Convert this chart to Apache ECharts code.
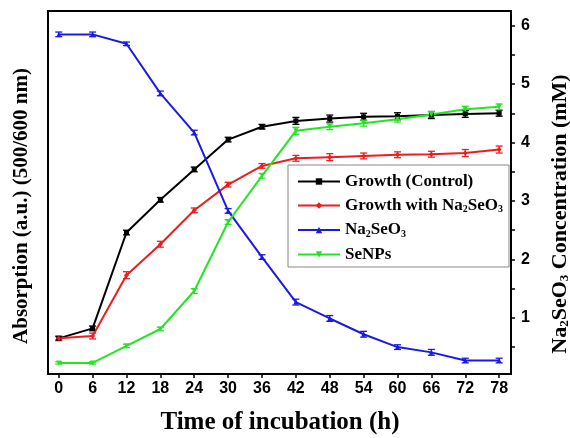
<!DOCTYPE html>
<html><head><meta charset="utf-8">
<script src="https://cdn.jsdelivr.net/npm/echarts@6/dist/echarts.min.js"></script>
<style>html,body{margin:0;padding:0;background:#fff}#c{width:570px;height:438px}</style>
</head><body><div id="c"></div>
<script>
const hours = [0,6,12,18,24,30,36,42,48,54,60,66,72,78];
const xTicks = [0,6,12,18,24,30,36,42,48,54,60,66,72,78];
const yLabels = [1,2,3,4,5,6];
const yTicks = [0.5,1,1.5,2,2.5,3,3.5,4,4.5,5,5.5,6];
const control = [0.65,0.82,2.46,3.02,3.54,4.05,4.27,4.37,4.41,4.44,4.45,4.47,4.49,4.50];
const controlErr = [0.03,0.04,0.04,0.04,0.04,0.04,0.04,0.06,0.06,0.06,0.06,0.06,0.06,0.05];
const withNa = [0.65,0.69,1.73,2.26,2.84,3.28,3.60,3.73,3.75,3.77,3.79,3.80,3.82,3.88];
const withNaErr = [0.04,0.05,0.06,0.05,0.04,0.04,0.04,0.05,0.06,0.05,0.05,0.05,0.06,0.06];
const na2seo3 = [5.85,5.85,5.69,4.84,4.17,2.83,2.04,1.27,0.99,0.72,0.50,0.41,0.27,0.27];
const na2seo3Err = [0.04,0.04,0.03,0.04,0.04,0.04,0.04,0.05,0.05,0.05,0.04,0.05,0.04,0.04];
const senps = [0.23,0.23,0.52,0.81,1.46,2.64,3.43,4.20,4.27,4.33,4.40,4.48,4.57,4.61];
const senpsErr = [0.02,0.02,0.03,0.03,0.04,0.04,0.04,0.06,0.05,0.05,0.05,0.05,0.05,0.05];

const YMIN = 0.04, YMAX = 6.25;
const serif = 'Liberation Serif';
const sans = 'Liberation Sans';

function pts(vals){ return hours.map((h,i)=>[h, vals[i]]); }
function errPts(vals, errs){ return hours.map((h,i)=>[h, vals[i], errs[i]]); }

function errSeries(vals, errs, color, yIdx){
  return {
    type:'custom', yAxisIndex:yIdx, z:3, silent:true,
    data: errPts(vals, errs),
    renderItem: function(params, api){
      const x = api.value(0), y = api.value(1), e = api.value(2);
      const t = api.coord([x, y+e]), b = api.coord([x, y-e]);
      const w = 3.5;
      const st = {stroke: color, lineWidth: 1.3};
      return {type:'group', children:[
        {type:'line', shape:{x1:t[0],y1:t[1],x2:b[0],y2:b[1]}, style:st},
        {type:'line', shape:{x1:t[0]-w,y1:t[1],x2:t[0]+w,y2:t[1]}, style:st},
        {type:'line', shape:{x1:b[0]-w,y1:b[1],x2:b[0]+w,y2:b[1]}, style:st}
      ]};
    }
  };
}

function lineSeries(name, vals, color, symbol, yIdx){
  return {
    name:name, type:'line', yAxisIndex:yIdx, data:pts(vals),
    symbol:symbol, symbolSize:5, z:4,
    lineStyle:{color:color, width:2}, itemStyle:{color:color}
  };
}

const chart = echarts.init(document.getElementById('c'));
chart.setOption({
  animation:false,
  grid:{left:48, top:11, right:59, bottom:64, show:true, borderColor:'#000', borderWidth:2, backgroundColor:'transparent'},
  xAxis:{
    type:'value', min:-1.9, max:80.1,
    axisLine:{show:true, onZero:false, lineStyle:{color:'#000', width:2}},
    axisTick:{show:true, customValues:xTicks, length:4, lineStyle:{color:'#000', width:1.5}},
    axisLabel:{customValues:xTicks, color:'#000', fontFamily:sans, fontWeight:'bold', fontSize:16, margin:7},
    splitLine:{show:false}
  },
  yAxis:[
    {type:'value', min:YMIN, max:YMAX, position:'left',
     axisLine:{show:true, onZero:false, lineStyle:{color:'#000', width:2}},
     axisTick:{show:false}, axisLabel:{show:false}, splitLine:{show:false}},
    {type:'value', min:YMIN, max:YMAX, position:'right',
     axisLine:{show:true, onZero:false, lineStyle:{color:'#000', width:2}},
     axisTick:{show:true, customValues:yTicks, length:4, lineStyle:{color:'#000', width:1.5}},
     axisLabel:{customValues:yLabels, color:'#000', fontFamily:sans, fontWeight:'bold', fontSize:16, margin:10},
     splitLine:{show:false}}
  ],
  legend:{
    orient:'vertical', left:288, top:165,
    padding:[8,6,4,9], itemGap:7,
    borderColor:'#888', borderWidth:1, backgroundColor:'#fff',
    itemWidth:42, itemHeight:8,
    data:['Growth (Control)','Growth with Na2SeO3','Na2SeO3','SeNPs'],
    formatter:function(n){ return n.replace('Na2SeO3','Na{s|2}SeO{s|3}'); },
    textStyle:{color:'#000', fontFamily:serif, fontWeight:'bold', fontSize:17,
      rich:{s:{fontFamily:serif, fontWeight:'bold', fontSize:10, padding:[8,0,0,0]}}}
  },
  graphic:[
    {type:'text', x:280, y:423, style:{text:'Time of incubation (h)', font:'bold 25px "Liberation Serif"', fill:'#000', textAlign:'center', textVerticalAlign:'middle'}},
    {type:'text', x:22, y:206, rotation:Math.PI/2, style:{text:'Absorption (a.u.) (500/600 nm)', font:'bold 21px "Liberation Serif"', fill:'#000', textAlign:'center', textVerticalAlign:'middle'}},
    {type:'text', x:560, y:214, rotation:Math.PI/2, style:{text:'Na{s|2}SeO{s|3} Concentration (mM)', font:'bold 22px "Liberation Serif"', fill:'#000', textAlign:'center', textVerticalAlign:'middle',
      rich:{s:{font:'bold 13px "Liberation Serif"', padding:[10,0,0,0]}}}}
  ],
  series:[
    lineSeries('Growth (Control)', control, '#000000', 'rect', 0),
    lineSeries('Growth with Na2SeO3', withNa, '#ee1c1c', 'diamond', 0),
    lineSeries('Na2SeO3', na2seo3, '#1a1ae6', 'triangle', 1),
    lineSeries('SeNPs', senps, '#22e622', 'path://M0,0 L10,0 L5,9 Z', 1),
    errSeries(control, controlErr, '#000000', 0),
    errSeries(withNa, withNaErr, '#ee1c1c', 0),
    errSeries(na2seo3, na2seo3Err, '#1a1ae6', 1),
    errSeries(senps, senpsErr, '#22e622', 1)
  ]
});
</script></body></html>
